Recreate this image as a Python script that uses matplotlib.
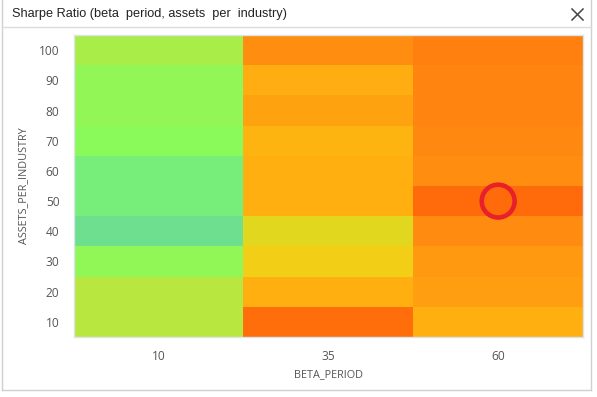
import matplotlib
matplotlib.use("Agg")
import matplotlib.pyplot as plt
from matplotlib.colors import LinearSegmentedColormap
from matplotlib.lines import Line2D
import numpy as np

beta_period = [10, 35, 60]
assets_per_industry = [10, 20, 30, 40, 50, 60, 70, 80, 90, 100]

# relative sharpe score per cell, rows = assets_per_industry (10 -> 100)
sharpe_b10 = [0.40, 0.40, 0.28, 0.00, 0.10, 0.10, 0.22, 0.30, 0.30, 0.36]
sharpe_b35 = [0.98, 0.70, 0.58, 0.50, 0.70, 0.70, 0.68, 0.76, 0.71, 0.84]
sharpe_b60 = [0.70, 0.78, 0.80, 0.85, 1.00, 0.84, 0.86, 0.88, 0.88, 0.90]

cmap_colors = ["#6ddf8e", "#78ee7a", "#88fb5c", "#93f756", "#b8e840", "#e2d820",
               "#f8cc14", "#ffb010", "#ff9a10", "#ff8010", "#ff6a0a"]

grid = np.array([sharpe_b10, sharpe_b35, sharpe_b60]).T
cmap = LinearSegmentedColormap.from_list("sharpe", cmap_colors)

fig = plt.figure(figsize=(5.97, 3.97), dpi=100)
fig.patch.set_facecolor("white")

# window frame and title bar
W, H = 597, 397
border = "#d0d0d0"
fig.add_artist(Line2D([2 / W, 2 / W], [1, 1 - 390 / H], color=border, lw=1))
fig.add_artist(Line2D([591 / W, 591 / W], [1, 1 - 390 / H], color=border, lw=1))
fig.add_artist(Line2D([2 / W, 591 / W], [1 - 390 / H, 1 - 390 / H], color=border, lw=1))
fig.add_artist(Line2D([2 / W, 591 / W], [1 - 27 / H, 1 - 27 / H], color="#dcdcdc", lw=1))
fig.text(12 / W, 1 - 14 / H, "Sharpe Ratio (beta  period, assets  per  industry)",
         family="Liberation Sans", fontsize=9.2, color="#222222", va="center", ha="left")
fig.add_artist(Line2D([572 / W, 583 / W], [1 - 9 / H, 1 - 20 / H], color="#444444", lw=1.1))
fig.add_artist(Line2D([572 / W, 583 / W], [1 - 20 / H, 1 - 9 / H], color="#444444", lw=1.1))

ax = fig.add_axes([74 / W, 1 - 337 / H, 509 / W, 302 / H])
ax.imshow(grid, cmap=cmap, vmin=0, vmax=1, aspect="auto", origin="lower",
          interpolation="nearest")

# mark best cell
r, c = np.unravel_index(np.argmax(grid), grid.shape)
ax.scatter([c], [r], s=560, facecolors="none", edgecolors="#e8202a", linewidths=3.3)

ax.set_xticks(range(len(beta_period)))
ax.set_xticklabels([str(v) for v in beta_period])
ax.set_yticks(range(len(assets_per_industry)))
ax.set_yticklabels([str(v) for v in assets_per_industry])
ax.tick_params(length=0, labelsize=8.6, labelcolor="#555555")
ax.tick_params(axis="y", pad=10.5)
ax.tick_params(axis="x", pad=9)
for lbl in ax.get_xticklabels() + ax.get_yticklabels():
    lbl.set_family("Open Sans")
ax.set_xlabel("BETA_PERIOD", family="Open Sans", fontsize=7.8, color="#555555", labelpad=5)
ax.set_ylabel("ASSETS_PER_INDUSTRY", family="Open Sans", fontsize=7.8, color="#555555", labelpad=7)
for s in ax.spines.values():
    s.set_color("#dde3ea")
    s.set_linewidth(1)

fig.savefig("out.png", dpi=100)
